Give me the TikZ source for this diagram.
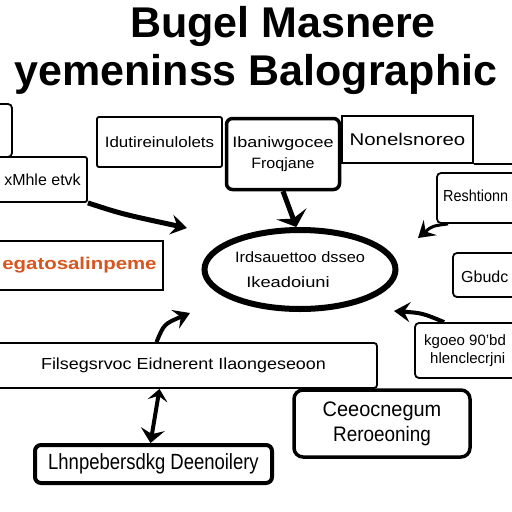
\documentclass[tikz,border=0pt]{standalone}
\usepackage{fontspec}
\setmainfont{Liberation Sans}
\usepackage{graphicx}
\usetikzlibrary{arrows.meta,shapes.geometric,calc}
\definecolor{orng}{RGB}{214,86,32}
\newcommand\sx[2]{\scalebox{#1}[1]{#2}}
\begin{document}
\begin{tikzpicture}[x=1pt,y=-1pt,
 fs/.style={font=\fontsize{#1}{#1}\selectfont},
 titlefont/.style={font=\fontsize{43}{43}\selectfont\bfseries,inner sep=0pt},
 thinbox/.style={draw,line width=1.8pt,rounded corners=2pt,inner sep=0pt,fill=white},
 thickbox/.style={draw,line width=3.5pt,rounded corners=6pt,inner sep=0pt,fill=white},
 arr/.style={line width=4pt,-{Stealth[length=16pt,width=20pt,inset=6pt]}},
]
\useasboundingbox (0,0) rectangle (512,512);
\fill[white] (0,0) rectangle (512,512);
\clip (0,0) rectangle (512,512);

% title
\node[titlefont,anchor=base] (title1) at (283,37) {Bugel Masnere};
\node[titlefont,anchor=base] (title2) at (256,85) {yemeninss Balographic};

% boxes
\node[thinbox,rounded corners=4pt,minimum width=22pt,minimum height=53pt] (b1) at (1,130.5) {};
\node[thinbox,minimum width=97pt,minimum height=45pt,fs=16] (b2) at (38.5,179.5) {\hspace*{8pt}xMhle etvk};
\node[thinbox,minimum width=125pt,minimum height=50pt,fs=15] (b3) at (159.5,142) {\sx{1.13}{Idutireinulolets}};
\node[thickbox,minimum width=113pt,minimum height=71pt,fs=15,align=center] (b4) at (283,154) {\sx{1.2}{Ibaniwgocee}\\[6pt]\sx{1.07}{Froqjane}};
\node[thinbox,rounded corners=0pt,minimum width=131pt,minimum height=47pt,fs=17] (b5) at (407.5,139.5) {\sx{1.2}{Nonelsnoreo}};
\draw[line width=1.8pt] (b5.south east) -- ++(40,0);

\node[thinbox,rounded corners=4pt,minimum width=93pt,minimum height=50pt] (b6) at (483.5,198) {};
\node[fs=16,anchor=west,inner sep=0pt] (t6) at (443,196) {\sx{0.9}{Reshtionn}};
\node[thinbox,rounded corners=4pt,minimum width=77pt,minimum height=44pt] (b7) at (491.5,275) {};
\node[fs=16,anchor=west,inner sep=0pt] (t7) at (461,277) {Gbudc};
\node[thinbox,rounded corners=4pt,minimum width=115pt,minimum height=55pt] (b8) at (472.5,350.5) {};
\node[fs=15,anchor=west,align=left,inner sep=0pt] (t8) at (424,351) {kgoeo 90'bd\\[3pt]\hspace*{6pt}hlenclecrjni};

\node[thinbox,rounded corners=0pt,minimum width=173pt,minimum height=49pt,text=orng,font=\fontsize{17}{17}\selectfont\bfseries] (org) at (76.5,265.5) {\hspace*{6pt}\sx{1.2}{egatosalinpeme}};

\node[draw,ellipse,line width=6pt,minimum width=191pt,minimum height=79pt,inner sep=0pt,fs=15,align=center] (ell) at (300,269.5) {\sx{1.09}{Irdsauettoo dsseo}\\[10pt]\sx{1.22}{Ikeadoiuni}\hspace*{24pt}};

\node[thinbox,rounded corners=3pt,minimum width=387pt,minimum height=45pt,fs=16] (wide) at (183.5,365.5) {\sx{1.12}{Filsegsrvoc Eidnerent Ilaongeseoon}};
\node[thickbox,rounded corners=9pt,minimum width=176pt,minimum height=67pt,fs=21,align=center] (b12) at (382,423.5) {\sx{0.95}{Ceeocnegum}\\[4pt]\sx{0.9}{Reroeoning}};
\node[thickbox,line width=4pt,rounded corners=6pt,minimum width=237pt,minimum height=38pt,fs=22] (b13) at (153.5,464) {\sx{0.84}{Lhnpebersdkg Deenoilery}};

% arrows
\coordinate (tA) at (187,228);
\coordinate (tC) at (418,238);
\coordinate (tD) at (394,311);
\coordinate (tE) at (190,313);
\draw[arr,line width=5pt] (b2.south east) .. controls (122,214) .. (tA);
\draw[line width=5pt,-{Stealth[length=14pt,width=32pt,inset=5pt]}] (b4.south) -- (ell.95);
\draw[arr,line width=3pt] ($(b6.south west)+(12,0)$) .. controls (432,226) .. (tC);
\draw[arr] ($(b8.north west)+(30,0)$) .. controls (422,313) .. (tD);
\draw[arr] ($(wide.north)+(-27,0)$) .. controls (164,324) .. (tE);
\draw[line width=4pt,{Stealth[length=12pt,width=20pt,inset=5pt]}-{Stealth[length=14pt,width=24pt,inset=5pt]}] ($(wide.south)+(-24,0)$) -- ($(b13.north)+(-3,0)$);
\end{tikzpicture}
\end{document}
